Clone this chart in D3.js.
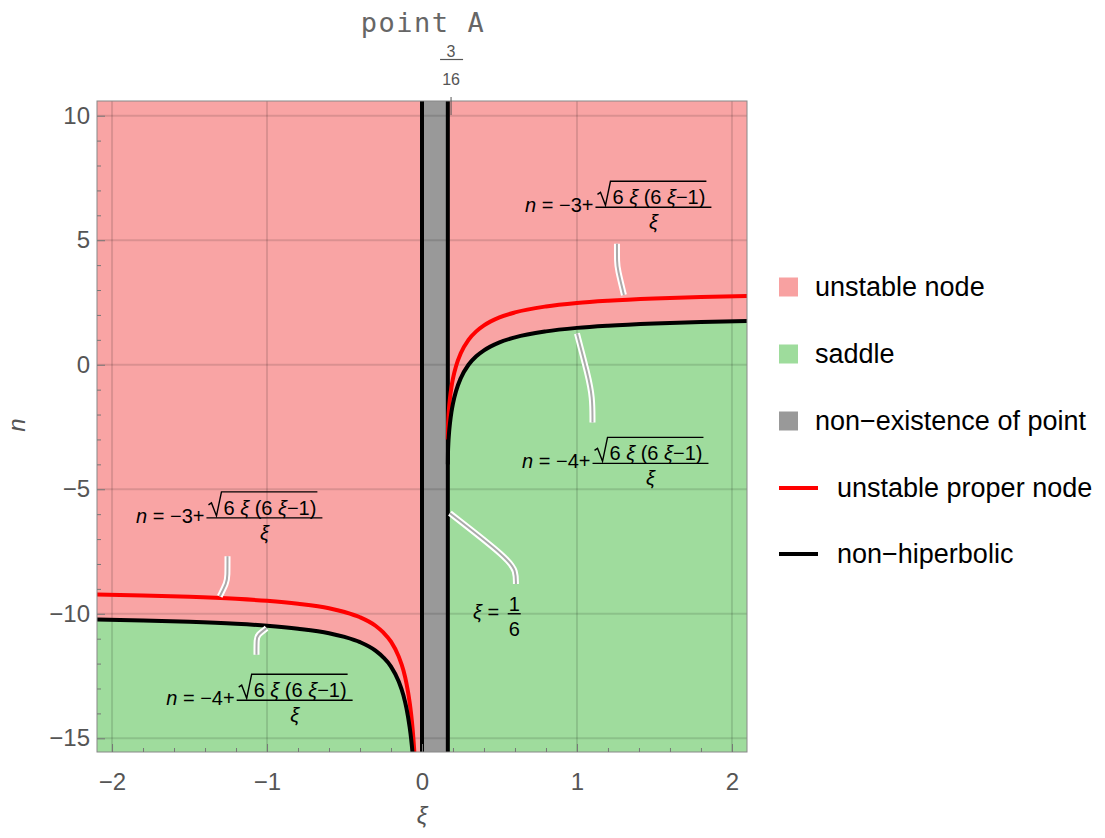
<!DOCTYPE html>
<html>
<head>
<meta charset="utf-8">
<script src="https://cdn.jsdelivr.net/npm/d3@7"></script>
<style>
body { margin: 0; background: #fff; }
text { font-family: "Liberation Sans", Arial, sans-serif; }
</style>
</head>
<body>
<div id="chart"></div>
<script>
// tick values
var xTicks = [-2, -1, 0, 1, 2];
var yTicks = [-15, -10, -5, 0, 5, 10];

// curves: xi values and n values
var xiLeft = [-2.1, -1.8, -1.5, -1.2, -1.0, -0.8, -0.6, -0.5, -0.4, -0.3, -0.25, -0.2, -0.15, -0.12, -0.1, -0.08, -0.07, -0.06, -0.05, -0.045, -0.04];
var redLeftN = [-9.23, -9.27, -9.32, -9.40, -9.48, -9.60, -9.78, -9.93, -10.14, -10.48, -10.75, -11.12, -11.72, -12.27, -12.80, -13.54, -14.03, -14.66, -15.49, -16.01, -16.64];
var blackLeftN = [-10.23, -10.27, -10.32, -10.40, -10.48, -10.60, -10.78, -10.93, -11.14, -11.48, -11.75, -12.12, -12.72, -13.27, -13.80, -14.54, -15.03, -15.66, -16.49, -17.01, -17.64];

var xiRight = [0.1667, 0.1675, 0.17, 0.175, 0.18, 0.19, 0.2, 0.22, 0.25, 0.3, 0.35, 0.4, 0.5, 0.6, 0.8, 1.0, 1.2, 1.5, 1.8, 2.1];
var redRightN = [-3.00, -2.58, -2.16, -1.69, -1.37, -0.90, -0.55, -0.05, 0.46, 1.00, 1.34, 1.58, 1.90, 2.10, 2.34, 2.48, 2.57, 2.66, 2.72, 2.76];
var blackRightN = [-4.00, -3.58, -3.16, -2.69, -2.37, -1.90, -1.55, -1.05, -0.54, 0.00, 0.34, 0.58, 0.90, 1.10, 1.34, 1.48, 1.57, 1.66, 1.72, 1.76];

// band where the point does not exist
var gapFrom = 0, gapTo = 1 / 6;
var topTickValue = 3 / 16;

var legendLabels = ["unstable node", "saddle", "non\u2212existence of point", "unstable proper node", "non\u2212hiperbolic"];
var legendColors = ["#f8a1a1", "#9edc9c", "#999999", "#ff0000", "#000000"];
var legendKinds = ["box", "box", "box", "line", "line"];

var pink = "#f9a4a4", green = "#9fdc9d", grey = "#999999";

var margin = {top: 101, left: 97},
    width = 650,
    height = 651;

var svg = d3.select("#chart").append("svg")
    .attr("width", 1105)
    .attr("height", 838);

var x = d3.scaleLinear().domain([-2.097, 2.097]).range([0, width]);
var y = d3.scaleLinear().domain([-15.55, 10.59]).range([height, 0]);

var plot = svg.append("g")
    .attr("transform", "translate(" + margin.left + "," + margin.top + ")");

plot.append("clipPath").attr("id", "clip")
  .append("rect").attr("width", width).attr("height", height);

var inner = plot.append("g").attr("clip-path", "url(#clip)");

inner.append("rect")
    .attr("width", width).attr("height", height)
    .attr("fill", pink);

function pts(xs, ns) { return xs.map(function(d, i) { return [d, ns[i]]; }); }

var area = d3.area()
    .x(function(d) { return x(d[0]); })
    .y0(height)
    .y1(function(d) { return y(d[1]); })
    .curve(d3.curveMonotoneX);

inner.append("path").datum(pts(xiLeft, blackLeftN)).attr("fill", green).attr("d", area);
inner.append("path").datum(pts(xiRight, blackRightN)).attr("fill", green).attr("d", area);

inner.append("rect")
    .attr("x", x(gapFrom)).attr("width", x(gapTo) - x(gapFrom))
    .attr("y", 0).attr("height", height)
    .attr("fill", grey);

// grid
inner.selectAll(".gx").data(xTicks).enter().append("line")
    .attr("x1", function(d) { return x(d); }).attr("x2", function(d) { return x(d); })
    .attr("y1", 0).attr("y2", height)
    .attr("stroke", "#000").attr("stroke-opacity", 0.12).attr("stroke-width", 2);
inner.selectAll(".gy").data(yTicks).enter().append("line")
    .attr("y1", function(d) { return y(d); }).attr("y2", function(d) { return y(d); })
    .attr("x1", 0).attr("x2", width)
    .attr("stroke", "#000").attr("stroke-opacity", 0.12).attr("stroke-width", 2);

// boundary lines of the band
inner.selectAll(".vb").data([gapFrom, gapTo]).enter().append("line")
    .attr("x1", function(d) { return x(d); }).attr("x2", function(d) { return x(d); })
    .attr("y1", 0).attr("y2", height)
    .attr("stroke", "#000").attr("stroke-width", 4);

var line = d3.line()
    .x(function(d) { return x(d[0]); })
    .y(function(d) { return y(d[1]); })
    .curve(d3.curveMonotoneX);

inner.append("path").datum(pts(xiLeft, redLeftN)).attr("fill", "none").attr("stroke", "#ff0000").attr("stroke-width", 4).attr("d", line);
inner.append("path").datum(pts(xiRight, redRightN)).attr("fill", "none").attr("stroke", "#ff0000").attr("stroke-width", 4).attr("d", line);
inner.append("path").datum(pts(xiLeft, blackLeftN)).attr("fill", "none").attr("stroke", "#000").attr("stroke-width", 4).attr("d", line);
inner.append("path").datum(pts(xiRight, blackRightN)).attr("fill", "none").attr("stroke", "#000").attr("stroke-width", 4).attr("d", line);

// callouts
var callouts = [
  [[1.258, 4.86], [1.258, 4.1], [1.262, 3.85], [1.303, 2.8]],
  [[1.0, 1.25], [1.07, -0.4], [1.1, -1.3], [1.1, -2.32]],
  [[-1.255, -7.69], [-1.255, -8.5], [-1.26, -8.75], [-1.305, -9.3]],
  [[-1.068, -11.65], [-1.068, -11.0], [-1.06, -10.85], [-1.003, -10.58]],
  [[0.18, -5.96], [0.56, -7.8], [0.606, -8.3], [0.606, -8.8]]
];
var cline = d3.line()
    .x(function(d) { return x(d[0]); })
    .y(function(d) { return y(d[1]); })
    .curve(d3.curveBasis);
callouts.forEach(function(c) {
  inner.append("path").attr("d", cline(c)).attr("fill", "none")
      .attr("stroke", "#fff").attr("stroke-width", 6);
  inner.append("path").attr("d", cline(c)).attr("fill", "none")
      .attr("stroke", "#aaa").attr("stroke-width", 2);
});

// formula labels
function formula(xv, nv, prefix) {
  var x0 = x(xv), y0 = y(nv);
  var g = plot.append("g").attr("font-size", 20).attr("fill", "#000");
  var t = g.append("text").attr("x", x0).attr("y", y0).style("white-space", "pre");
  t.append("tspan").attr("font-style", "italic").text("n");
  t.append("tspan").text(" = " + prefix);
  var bx = x0 + t.node().getComputedTextLength() + 2;
  var r0 = bx + 2;
  var num = g.append("text").attr("x", r0 + 15).attr("y", y0 - 8).style("white-space", "pre");
  num.append("tspan").text("6 ");
  num.append("tspan").attr("font-style", "italic").text("\u03BE");
  num.append("tspan").text(" (6 ");
  num.append("tspan").attr("font-style", "italic").text("\u03BE");
  num.append("tspan").text("\u22121)");
  var ex = r0 + 15 + num.node().getComputedTextLength();
  g.append("path")
      .attr("d", "M" + r0 + "," + (y0 - 18) + "L" + (r0 + 3) + "," + (y0 - 20) + "L" + (r0 + 8) + "," + (y0 - 7) +
                 "L" + (r0 + 13) + "," + (y0 - 31) + "L" + (ex + 1) + "," + (y0 - 31))
      .attr("fill", "none").attr("stroke", "#000").attr("stroke-width", 1.4);
  g.append("line").attr("x1", bx).attr("x2", ex + 6).attr("y1", y0 - 5).attr("y2", y0 - 5)
      .attr("stroke", "#000").attr("stroke-width", 1.4);
  g.append("text").attr("x", (bx + ex + 6) / 2).attr("y", y0 + 17)
      .attr("text-anchor", "middle").attr("font-style", "italic").text("\u03BE");
}
formula(0.665, 6.12, "\u22123+");
formula(0.646, -4.16, "\u22124+");
formula(-1.845, -6.35, "\u22123+");
formula(-1.65, -13.67, "\u22124+");

// xi = 1/6 label
(function() {
  var x0 = x(0.329), y0 = y(-10.22);
  var g = plot.append("g").attr("font-size", 20).attr("fill", "#000");
  var t = g.append("text").attr("x", x0).attr("y", y0).style("white-space", "pre");
  t.append("tspan").attr("font-style", "italic").text("\u03BE");
  t.append("tspan").text(" = ");
  var bx = x0 + t.node().getComputedTextLength() + 3;
  g.append("line").attr("x1", bx).attr("x2", bx + 13).attr("y1", y0 - 5.5).attr("y2", y0 - 5.5)
      .attr("stroke", "#000").attr("stroke-width", 1.4);
  g.append("text").attr("x", bx + 6.5).attr("y", y0 - 8).attr("text-anchor", "middle").text("1");
  g.append("text").attr("x", bx + 6.5).attr("y", y0 + 17).attr("text-anchor", "middle").text("6");
})();

// frame
plot.append("rect").attr("width", width).attr("height", height)
    .attr("fill", "none").attr("stroke", "#888").attr("stroke-width", 1);

// axes
var xMinor = d3.range(-20, 21, 2).map(function(d) { return d / 10; }).filter(function(d) { return xTicks.indexOf(d) < 0; });
var yMinor = d3.range(-15, 11).filter(function(d) { return yTicks.indexOf(d) < 0; });

function styleAxis(g) {
  g.select(".domain").remove();
  g.selectAll(".tick line").attr("stroke", "#777");
  g.selectAll("text").attr("fill", "#555").attr("font-size", 24)
      .attr("font-family", "Liberation Sans, Arial, sans-serif");
}

plot.append("g").attr("transform", "translate(0," + height + ")")
    .call(d3.axisBottom(x).tickValues(xMinor).tickSize(-4).tickFormat(""))
    .call(styleAxis);
plot.append("g").attr("transform", "translate(0," + height + ")")
    .call(d3.axisBottom(x).tickValues(xTicks).tickSize(-8).tickPadding(21)
        .tickFormat(function(d) { return d < 0 ? "\u2212" + (-d) : d; }))
    .call(styleAxis);
plot.append("g")
    .call(d3.axisLeft(y).tickValues(yMinor).tickSize(-4).tickFormat(""))
    .call(styleAxis);
plot.append("g")
    .call(d3.axisLeft(y).tickValues(yTicks).tickSize(-8).tickPadding(7)
        .tickFormat(function(d) { return d < 0 ? "\u2212" + (-d) : d; }))
    .call(styleAxis);

// 3/16 tick on the top frame
plot.append("line")
    .attr("x1", x(topTickValue)).attr("x2", x(topTickValue))
    .attr("y1", -4).attr("y2", 14)
    .attr("stroke", "#555").attr("stroke-width", 1);
var tf = plot.append("g").attr("fill", "#555").attr("font-size", 16).attr("text-anchor", "middle");
tf.append("text").attr("x", x(topTickValue)).attr("y", 57 - margin.top).text("3");
tf.append("text").attr("x", x(topTickValue)).attr("y", 85 - margin.top).text("16");
plot.append("line")
    .attr("x1", x(topTickValue) - 11).attr("x2", x(topTickValue) + 12)
    .attr("y1", 59.5 - margin.top).attr("y2", 59.5 - margin.top)
    .attr("stroke", "#555").attr("stroke-width", 1.2);

// title and axis labels
svg.append("text")
    .attr("x", margin.left + x(0) + 1).attr("y", 32)
    .attr("text-anchor", "middle")
    .style("font-family", "'DejaVu Sans Mono', 'Liberation Mono', monospace")
    .attr("font-size", 27).attr("letter-spacing", 1.5)
    .attr("fill", "#666")
    .text("point A");

svg.append("text")
    .attr("x", margin.left + x(0)).attr("y", 824)
    .attr("text-anchor", "middle").attr("font-style", "italic")
    .attr("font-size", 24).attr("fill", "#555")
    .text("\u03BE");

svg.append("text")
    .attr("transform", "translate(25,425) rotate(-90)")
    .attr("text-anchor", "middle").attr("font-style", "italic")
    .attr("font-size", 24).attr("fill", "#555")
    .text("n");

// legend
var legendTop = [287, 354, 421, 488, 554];
var leg = svg.append("g");
legendLabels.forEach(function(lab, i) {
  var cy = legendTop[i];
  if (legendKinds[i] === "box") {
    leg.append("rect").attr("x", 779).attr("y", cy - 9.5).attr("width", 19).attr("height", 19)
        .attr("fill", legendColors[i]);
    leg.append("text").attr("x", 815).attr("y", cy + 9).attr("font-size", 27).attr("fill", "#000").text(lab);
  } else {
    leg.append("line").attr("x1", 779).attr("x2", 818).attr("y1", cy).attr("y2", cy)
        .attr("stroke", legendColors[i]).attr("stroke-width", 4);
    leg.append("text").attr("x", 837).attr("y", cy + 9).attr("font-size", 27).attr("fill", "#000").text(lab);
  }
});
</script>
</body>
</html>
